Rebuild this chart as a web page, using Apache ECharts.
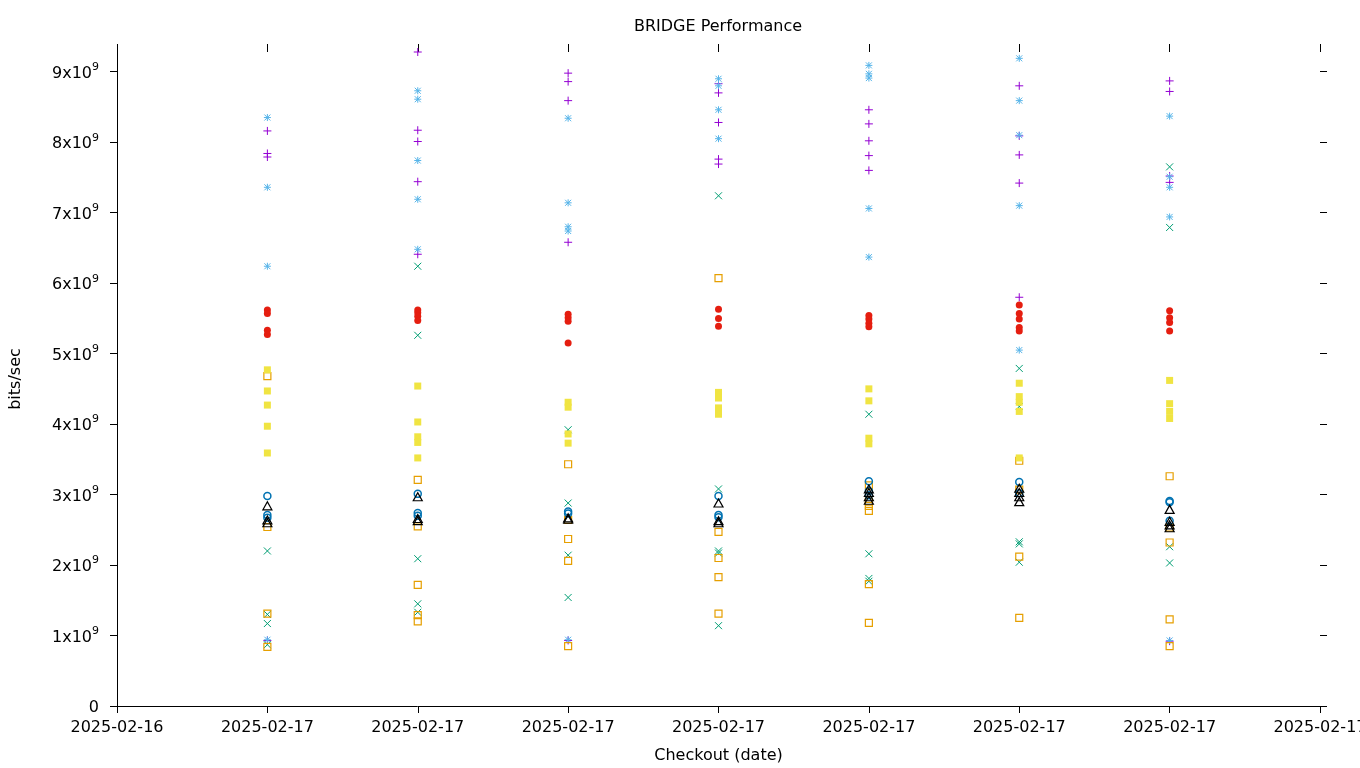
<!DOCTYPE html>
<html>
<head>
<meta charset="utf-8">
<style>html,body{margin:0;padding:0;background:#fff}#c{width:1360px;height:768px}</style>
<script src="https://cdn.jsdelivr.net/npm/echarts@6/dist/echarts.min.js"></script>
</head>
<body>
<div id="c"></div>
<script>
// x positions of the seven checkout columns (axis runs 0..8)
const xPositions = [1, 2, 3, 4, 5, 6, 7];
const xTickLabels = ['2025-02-16', '2025-02-17', '2025-02-17', '2025-02-17', '2025-02-17', '2025-02-17', '2025-02-17', '2025-02-17', '2025-02-17'];
const yTicks = [0, 1, 2, 3, 4, 5, 6, 7, 8, 9]; // units of 10^9 bits/sec
const yMax = 9.28;

// values in units of 10^9 bits/sec, one inner array per column
const purplePlus = [
  [8.16, 7.84, 7.79, 0.93],
  [9.28, 8.17, 8.01, 7.44, 6.41],
  [8.98, 8.86, 8.59, 6.58, 0.93],
  [8.83, 8.70, 8.28, 7.76, 7.69],
  [8.46, 8.26, 8.02, 7.81, 7.60],
  [8.80, 8.09, 7.82, 7.42, 5.80],
  [8.87, 8.72, 7.52, 7.43, 0.92]
];
const greenCross = [
  [2.20, 1.30, 1.17, 0.87],
  [6.24, 5.26, 2.09, 1.45, 1.33],
  [3.92, 2.88, 2.14, 1.54],
  [7.24, 3.08, 2.20, 2.17, 1.14],
  [4.14, 2.16, 1.81, 1.77],
  [4.79, 4.25, 2.33, 2.30, 2.04],
  [7.65, 6.79, 2.26, 2.03]
];
const blueStar = [
  [8.35, 7.36, 6.24, 0.94],
  [8.73, 8.61, 7.74, 7.19, 6.48],
  [8.34, 7.14, 6.80, 6.74, 0.94],
  [8.90, 8.80, 8.46, 8.05],
  [9.09, 8.97, 8.91, 7.06, 6.37],
  [9.19, 8.59, 8.10, 7.10, 5.05],
  [8.37, 7.51, 7.36, 6.94, 0.93]
];
const orangeSquare = [
  [4.68, 2.54, 1.31, 0.84],
  [3.21, 2.55, 1.72, 1.29, 1.20],
  [3.43, 2.64, 2.37, 2.06, 0.85],
  [6.07, 2.47, 2.10, 1.83, 1.31],
  [3.13, 2.90, 2.84, 2.77, 1.73, 1.18],
  [3.48, 3.07, 2.12, 1.25],
  [3.26, 2.53, 2.32, 1.23, 0.85]
];
const yellowSquare = [
  [4.77, 4.47, 4.27, 3.97, 3.59],
  [4.54, 4.03, 3.82, 3.74, 3.52],
  [4.31, 4.24, 3.86, 3.73],
  [4.45, 4.37, 4.23, 4.14],
  [4.50, 4.33, 3.80, 3.72],
  [4.58, 4.39, 4.31, 4.18, 3.52],
  [4.62, 4.29, 4.18, 4.08]
];
const blueCircle = [
  [2.98, 2.71, 2.67],
  [3.01, 2.74, 2.70],
  [2.76, 2.73],
  [2.98, 2.71, 2.68],
  [3.19, 3.05, 2.99],
  [3.18, 3.02],
  [2.91, 2.89, 2.63]
];
const redDot = [
  [5.62, 5.57, 5.33, 5.27],
  [5.62, 5.58, 5.53, 5.47],
  [5.56, 5.51, 5.46, 5.15],
  [5.63, 5.50, 5.39],
  [5.54, 5.49, 5.43, 5.38],
  [5.69, 5.57, 5.49, 5.37, 5.32],
  [5.61, 5.51, 5.44, 5.32]
];
const blackTriangle = [
  [2.84, 2.64, 2.60],
  [2.97, 2.66, 2.63],
  [2.67, 2.65],
  [2.88, 2.63, 2.60],
  [3.08, 3.03, 2.97, 2.92],
  [3.09, 3.03, 2.97, 2.90],
  [2.79, 2.62, 2.57, 2.53]
];

function toPoints(cols) {
  const out = [];
  cols.forEach((col, i) => col.forEach(v => out.push([xPositions[i], v])));
  return out;
}

const FONT = 'DejaVu Sans';
const PLUS = 'path://M0,4L8,4M4,0L4,8';
const CROSS = 'path://M0,0L7,7M0,7L7,0';
const STAR = 'path://M0,3.5L7,3.5M3.5,0L3.5,7M0.5,0.5L6.5,6.5M0.5,6.5L6.5,0.5';
const CLEAR = 'rgba(0,0,0,0)';

function mk(name, data, symbol, size, color, filled, bw) {
  return {
    name, type: 'scatter', data: toPoints(data), symbol, symbolSize: size,
    clip: false, silent: true, emphasis: { disabled: true }, animation: false,
    itemStyle: filled ? { color: color, opacity: 1 } : { color: CLEAR, borderColor: color, borderWidth: bw || 1, opacity: 1 }
  };
}

const chart = echarts.init(document.getElementById('c'), null, { renderer: 'canvas' });
chart.setOption({
  backgroundColor: '#fff',
  animation: false,
  title: {
    text: 'BRIDGE Performance', left: 718, top: 19, textAlign: 'center', padding: 0,
    textStyle: { fontFamily: FONT, fontSize: 16, fontWeight: 'normal', color: '#000' }
  },
  grid: { left: 117, right: 40, top: 52, bottom: 62, containLabel: false, outerBoundsMode: 'none' },
  xAxis: [{
    type: 'value', min: 0, max: 8, interval: 1,
    name: 'Checkout (date)', nameLocation: 'middle', nameGap: 42,
    nameTextStyle: { fontFamily: FONT, fontSize: 16, color: '#000' },
    axisLine: { show: true, onZero: false, lineStyle: { color: '#000', width: 1 } },
    axisTick: { show: true, inside: false, length: 7, lineStyle: { color: '#000' } },
    axisLabel: { show: true, margin: 14, fontFamily: FONT, fontSize: 16, color: '#000', hideOverlap: false,
      showMinLabel: true, showMaxLabel: true, formatter: v => xTickLabels[v] },
    splitLine: { show: false }
  }, {
    type: 'value', position: 'top', min: 0, max: 8, interval: 1,
    axisLine: { show: true, onZero: false, lineStyle: { color: CLEAR, width: 1 } },
    axisTick: { show: true, inside: false, length: 8, lineStyle: { color: '#000', width: 1 } },
    axisLabel: { show: false }, splitLine: { show: false }
  }],
  yAxis: [{
    type: 'value', min: 0, max: yMax,
    name: 'bits/sec', nameLocation: 'middle', nameGap: 93,
    nameTextStyle: { fontFamily: FONT, fontSize: 16, color: '#000' },
    axisLine: { show: true, onZero: false, lineStyle: { color: '#000', width: 1 } },
    axisTick: { show: true, inside: false, length: 7, lineStyle: { color: '#000' }, customValues: yTicks },
    axisLabel: {
      show: true, margin: 18, customValues: yTicks, color: '#000',
      fontFamily: FONT, fontSize: 16,
      formatter: v => v === 0 ? '{m|0}' : '{m|' + v + 'x10}{s|9}',
      rich: {
        m: { fontFamily: FONT, fontSize: 16, color: '#000', lineHeight: 20, verticalAlign: 'bottom' },
        s: { fontFamily: FONT, fontSize: 11, color: '#000', lineHeight: 11, padding: [0, 0, 9, 0], verticalAlign: 'bottom' }
      }
    },
    splitLine: { show: false }
  }, {
    type: 'value', position: 'right', min: 0, max: yMax,
    axisLine: { show: true, onZero: false, lineStyle: { color: CLEAR, width: 1 } },
    axisTick: { show: true, inside: false, length: 7, lineStyle: { color: '#000', width: 1 }, customValues: yTicks },
    axisLabel: { show: false }, splitLine: { show: false }
  }],
  graphic: [
    { type: 'line', shape: { x1: 117.5, y1: 44, x2: 117.5, y2: 53 }, style: { stroke: '#000', lineWidth: 1 }, silent: true },
    { type: 'line', shape: { x1: 1319, y1: 706.5, x2: 1327, y2: 706.5 }, style: { stroke: '#000', lineWidth: 1 }, silent: true }
  ],
  series: [
    mk('purple', purplePlus, PLUS, [8, 8], '#9400d3', false, 1),
    mk('green', greenCross, CROSS, [7, 7], '#009e73', false, 1),
    mk('lightblue', blueStar, STAR, [7, 7], '#56b4e9', false, 1),
    mk('orange', orangeSquare, 'rect', [7, 7], '#e69f00', false, 1.2),
    mk('yellow', yellowSquare, 'rect', [7, 7], '#f0e442', true),
    mk('blue', blueCircle, 'circle', [7, 7], '#0072b2', false, 1.5),
    mk('red', redDot, 'circle', [7, 7], '#e51e10', true),
    mk('black', blackTriangle, 'triangle', [9, 8], '#000000', false, 1.2)
  ]
});
</script>
</body>
</html>
